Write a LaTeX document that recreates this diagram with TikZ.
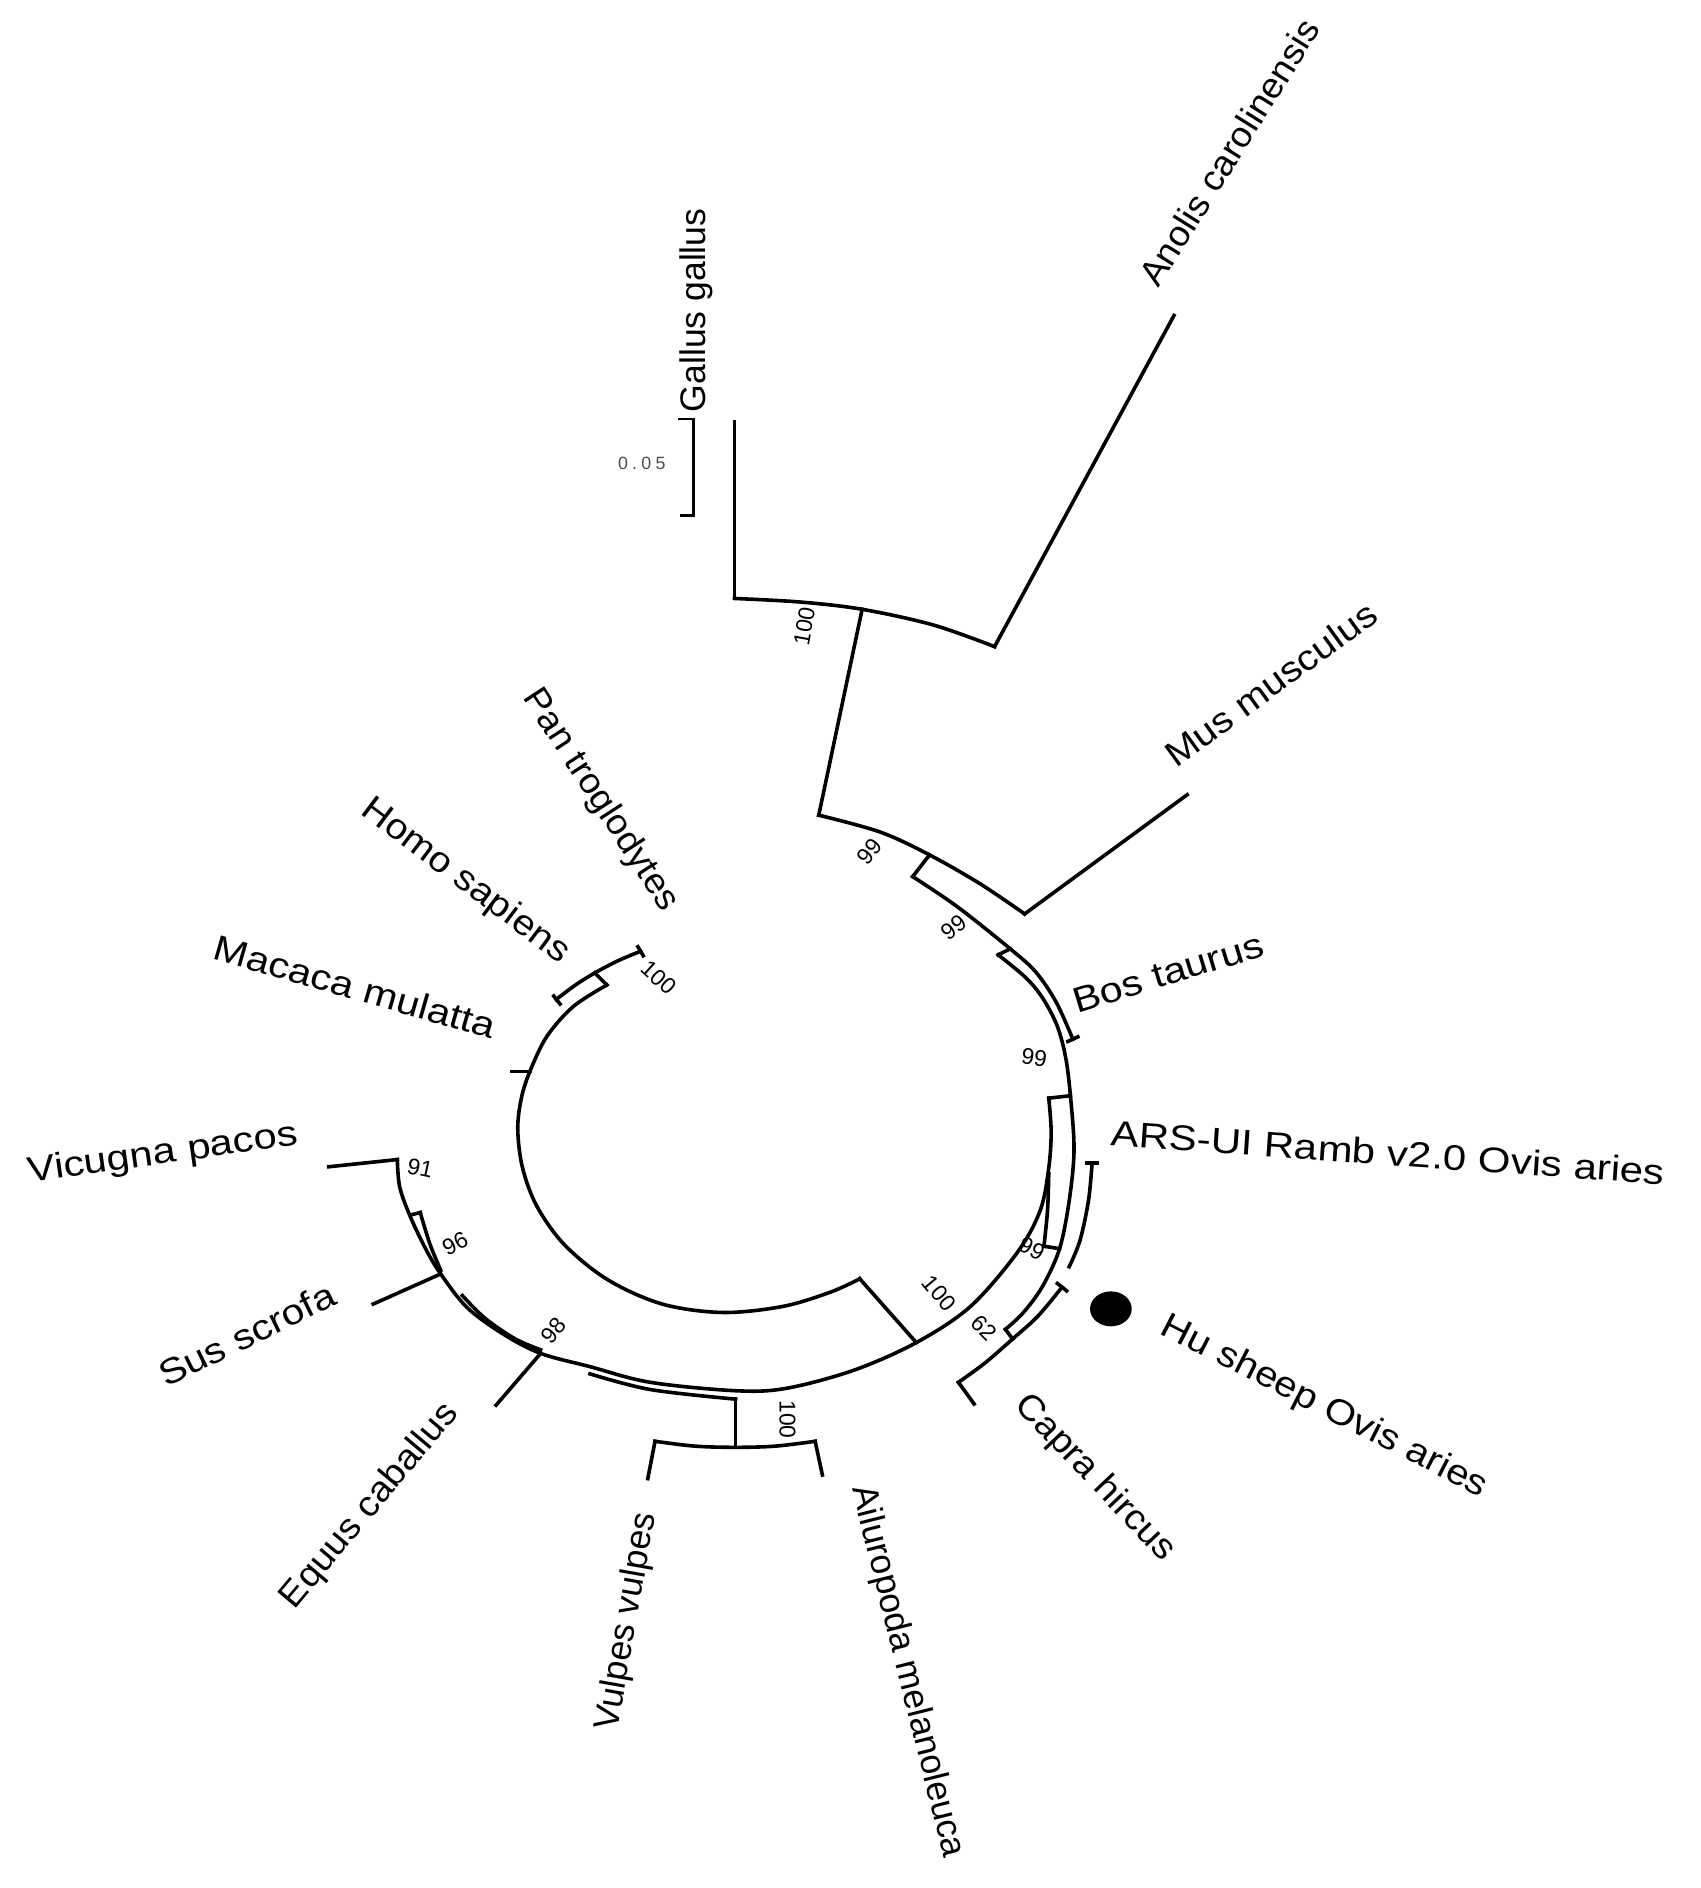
\documentclass[tikz,border=0pt]{standalone}
\usepackage{fontspec}
\usepackage{graphicx}
\setmainfont{Liberation Sans}
\newcommand{\stretchx}[2]{\scalebox{#1}[1]{#2}}
\begin{document}
\begin{tikzpicture}[
    x=0.01cm, y=-0.01cm,
    br/.style={line width=0.85pt, line cap=rect},
    tcap/.style={line width=0.85pt},
    taxon/.style={font=\fontsize{8.4}{10}\selectfont, inner sep=0pt},
    boot/.style={font=\fontsize{5.4}{6}\selectfont, inner sep=0pt},
    arcs/.style={smooth, tension=0.55},
  ]
  \useasboundingbox (0,0) rectangle (1412,1568);

  % --- Points de l'arbre ---
  \coordinate (galT) at (610,350);   \coordinate (galB) at (610,497);
  \coordinate (gaN)  at (716,506);
  \coordinate (anoB) at (826,537);   \coordinate (anoT) at (975,262);
  \coordinate (n99a) at (680,677);
  \coordinate (musB) at (851,759);   \coordinate (musT) at (986,660);
  \coordinate (stO)  at (772,710);   \coordinate (stI)  at (758,728);
  \coordinate (bosO) at (839,788);   \coordinate (bosI) at (829,793);
  \coordinate (bosT) at (891,863);
  \coordinate (qO)   at (889,910);   \coordinate (qI)   at (871,912);
  \coordinate (tkI)  at (867,1035);  \coordinate (tkO)  at (880,1037);
  \coordinate (arsT) at (907,966);   \coordinate (arsE) at (888,1052);
  \coordinate (huT)  at (882,1069);
  \coordinate (s62I) at (835,1104);  \coordinate (s62O) at (841,1112);
  \coordinate (capB) at (796,1148);  \coordinate (capT) at (809,1166);
  \coordinate (rootO) at (761,1115); \coordinate (rootI) at (714,1062);
  \coordinate (avTop) at (611,1162); \coordinate (avN) at (611,1202);
  \coordinate (vulB) at (544,1197);  \coordinate (vulT) at (538,1228);
  \coordinate (ailB) at (677,1197);  \coordinate (ailT) at (683,1225);
  \coordinate (equB) at (449,1124);  \coordinate (equT) at (412,1167);
  \coordinate (susB) at (366,1058);  \coordinate (susT) at (310,1083);
  \coordinate (vicB) at (330,963);   \coordinate (vicT) at (273,969);
  \coordinate (macB) at (440,890);   \coordinate (macT) at (425,890);
  \coordinate (priI) at (504,818);   \coordinate (priO) at (494,808);
  \coordinate (homT) at (462,830);   \coordinate (panT) at (532,790);

  % --- Branches (haut) ---
  \draw[br] (galT) -- (galB);
  \draw[br] plot[arcs] coordinates {(galB) (665,500) (gaN) (775,519) (anoB)};
  \draw[br] (anoB) -- (anoT);
  \draw[br] (gaN) -- (n99a);
  \draw[br] plot[arcs] coordinates {(n99a) (731,691) (stO) (814,734) (musB)};
  \draw[br] (musB) -- (musT);
  \draw[br] (stO) -- (stI);
  % arc vers Bos taurus (externe)
  \draw[br] plot[arcs] coordinates {(stI) (795,753) (bosO) (860,807) (877,832) (bosT)};
  \draw[tcap] (885.5,865.5) -- (896.5,860.5);
  \draw[br] (bosO) -- (bosI);
  % arc interne jusqu'au noeud 62
  \draw[br] plot[arcs] coordinates {(bosI) (852,812) (866,829) (878,852) (885,878) (qO)
    (892,955) (888,997) (tkO) (866,1068) (850,1090) (s62I)};
  \draw[br] (qO) -- (qI);

  % --- Moutons, chèvre ---
  \draw[br] plot[arcs] coordinates {(arsT) (904,997) (897,1030) (arsE)};
  \draw[tcap] (901,966) -- (913,966);
  \draw[br] plot[arcs] coordinates {(871,975) (870,1005) (tkI)};
  \draw[br] (tkI) -- (tkO);
  \draw[br] (s62I) -- (s62O);
  \draw[br] plot[arcs] coordinates {(huT) (862,1093) (s62O) (818,1132) (capB)};
  \draw[tcap] (877,1065) -- (887,1073);
  \draw[br] (capB) -- (capT);
  \fill (922.6,1087) ellipse [x radius=0.173cm, y radius=0.145cm];

  % --- Grand arc (gauche, bas, droite) ---
  \draw[br] plot[arcs] coordinates {(vicB) (332,986) (341,1011) (354,1038) (susB)
    (388,1086) (418,1108) (equB) (490,1135) (540,1148) (611,1155) (653,1153)
    (709,1138) (rootO) (806,1085) (845,1040) (864,1005) (871,970) (873,940) (qI)};
  \draw[br] (vicB) -- (vicT);
  \draw[br] (susB) -- (susT);
  \draw[br] (equB) -- (equT);
  \draw[br] (341,1009) -- (349,1007);
  \draw[br] plot[arcs] coordinates {(349,1007) (357,1033) (366,1055)};
  \draw[br] plot[arcs] coordinates {(384,1076) (403,1095) (428,1112) (449,1121)};
  \draw[br] plot[arcs] coordinates {(490,1141) (540,1154) (avTop)};
  \draw[br] (avTop) -- (avN);
  \draw[br] plot[arcs] coordinates {(vulB) (577,1201) (avN) (644,1201) (ailB)};
  \draw[br] (vulB) -- (vulT);
  \draw[br] (ailB) -- (ailT);

  % --- Cercle intérieur, primates ---
  \draw[br] (rootI) -- (rootO);
  \draw[br] plot[arcs] coordinates {(rootI) (690,1073) (650,1085) (600,1090) (550,1083)
    (505,1063) (469,1034) (446,1002) (434,970) (430,938) (433,912) (macB)
    (454,861) (476,836) (priI)};
  \draw[br] (macB) -- (macT);
  \draw[br] (priI) -- (priO);
  \draw[br] plot[arcs] coordinates {(homT) (478,818) (priO) (513,798) (panT)};
  \draw[tcap] (459,826) -- (466,835);
  \draw[tcap] (529,785) -- (535,795);

  % --- Echelle ---
  \draw[line width=0.6pt] (563,348) -- (576,348) -- (576,428) -- (565,428);
  \node[font=\fontsize{4.2}{5}\selectfont, text=black!70, inner sep=0pt] (echelle)
    at (533,385) {0\kern1pt.\kern1pt0\kern1pt5};

  % --- Taxons ---
  \node[taxon, anchor=west, rotate=90]  (gallus) at (578,343) {Gallus gallus};
  \node[taxon, anchor=west, rotate=58]  (anolis) at (953,235) {\stretchx{1.04}{Anolis carolinensis}};
  \node[taxon, anchor=west, rotate=36]  (mus) at (970,630) {\stretchx{1.11}{Mus musculus}};
  \node[taxon, anchor=west, rotate=17]  (bos) at (891,832) {\stretchx{1.16}{Bos taurus}};
  \node[taxon, anchor=west, rotate=-4]  (ars) at (922,941) {\stretchx{1.18}{ARS-UI Ramb v2.0 Ovis aries}};
  \node[taxon, anchor=west, rotate=-27] (hu) at (965,1100) {\stretchx{1.13}{Hu sheep Ovis aries}};
  \node[taxon, anchor=west, rotate=-46.5] (capra) at (847,1162) {\stretchx{1.07}{Capra hircus}};
  \node[taxon, anchor=west, rotate=-76] (ailuro) at (715,1234) {Ailuropoda melanoleuca};
  \node[taxon, anchor=east, rotate=80]  (vulpes) at (537,1256) {Vulpes vulpes};
  \node[taxon, anchor=east, rotate=50]  (equus) at (376,1169) {\stretchx{1.06}{Equus caballus}};
  \node[taxon, anchor=east, rotate=26]  (sus) at (277,1073) {\stretchx{1.14}{Sus scrofa}};
  \node[taxon, anchor=east, rotate=8]   (vicugna) at (248,943) {\stretchx{1.17}{Vicugna pacos}};
  \node[taxon, anchor=east, rotate=-16] (macaca) at (412,853) {\stretchx{1.16}{Macaca mulatta}};
  \node[taxon, anchor=east, rotate=-37] (homo) at (470,795) {\stretchx{1.1}{Homo sapiens}};
  \node[taxon, anchor=east, rotate=-57] (pan) at (557,755) {\stretchx{1.04}{Pan troglodytes}};

  % --- Valeurs de bootstrap ---
  \node[boot, rotate=80]  (bGA) at (668,520) {100};
  \node[boot, rotate=50]  (b99a) at (722,707) {99};
  \node[boot, rotate=37]  (b99b) at (792,770) {99};
  \node[boot, rotate=-8]  (b99c) at (859,878) {99};
  \node[boot, rotate=-28] (b99d) at (857,1037) {99};
  \node[boot, rotate=-45] (b62) at (817,1103) {62};
  \node[boot, rotate=-50] (bRoot) at (780,1074) {100};
  \node[boot, rotate=-42] (bPri) at (547,812) {100};
  \node[boot, rotate=-90] (bAV) at (654,1179) {100};
  \node[boot, rotate=-12] (b91) at (349,970) {91};
  \node[boot, rotate=27]  (b96) at (378,1033) {96};
  \node[boot, rotate=50]  (b98) at (460,1105) {98};
\end{tikzpicture}
\end{document}
